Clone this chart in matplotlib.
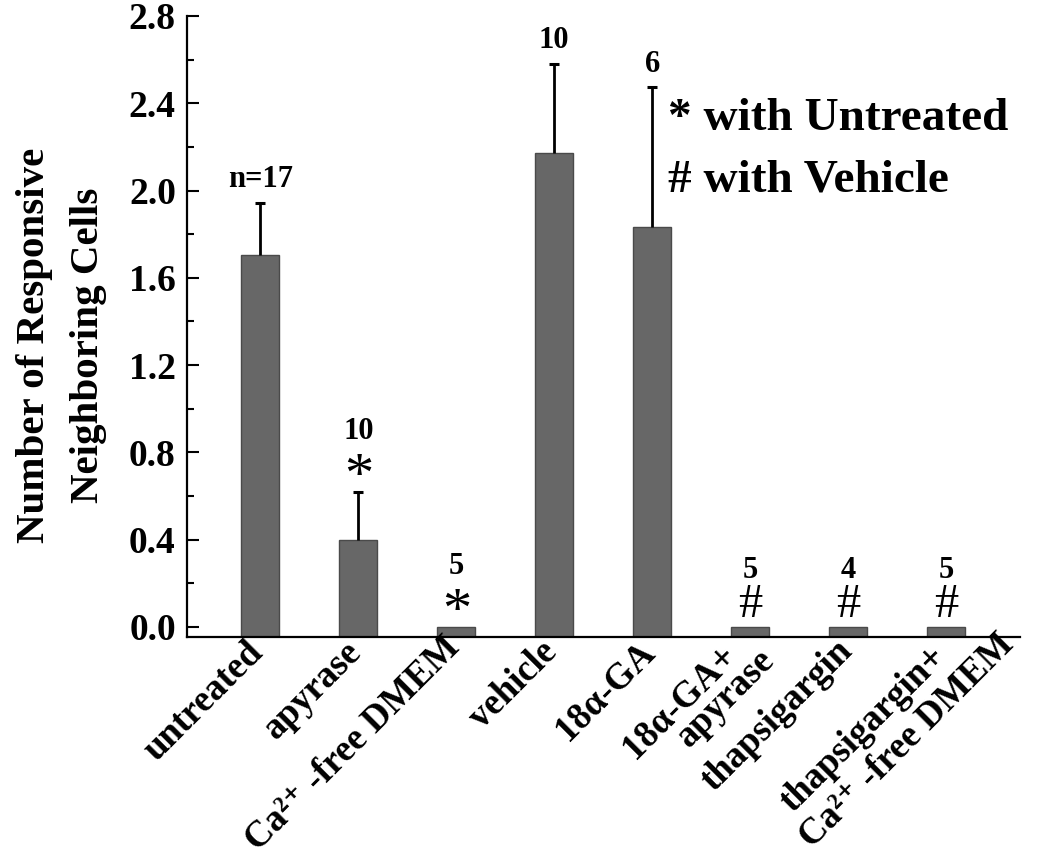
import matplotlib
matplotlib.use("Agg")
import matplotlib.pyplot as plt
import matplotlib.transforms as mtransforms
import numpy as np

plt.rcParams['font.family'] = ['Liberation Serif', 'DejaVu Serif']
plt.rcParams['font.weight'] = 'bold'

categories = ["untreated", "apyrase", "Ca\u00b2\u207a -free DMEM", "vehicle", "18\u03b1-GA",
              "18\u03b1-GA+\napyrase", "thapsigargin", "thapsigargin+\nCa\u00b2\u207a -free DMEM"]
values = [1.705, 0.40, 0.0, 2.17, 1.833, 0.0, 0.0, 0.0]
errors = [0.24, 0.22, 0.0, 0.41, 0.64, 0.0, 0.0, 0.0]
n_labels = ["n=17", "10", "5", "10", "6", "5", "4", "5"]
sig_marks = ["", "*", "*", "", "", "#", "#", "#"]
yticks = [0.0, 0.4, 0.8, 1.2, 1.6, 2.0, 2.4, 2.8]

# layout of rotated category label lines: (end along text direction, baseline offset) in px
line_layout = [[(-9, 15)], [(-9, 15)], [(-5, 12)], [(-9, 15)], [(-9, 15)],
               [(-23, 6), (1, 36)], [(-7, 15)], [(-14, 16), (42, 55)]]

fig = plt.figure(figsize=(10.5, 8.58), dpi=100)
ax = fig.add_axes([0.178, 0.2576, 0.793, 0.7238])

ybot = -0.046
x = np.arange(len(categories))
vals = np.array(values)
errs = np.array(errors)
ax.bar(x, vals - ybot, bottom=ybot, width=0.39, color='#676767',
       edgecolor='#4a4a4a', linewidth=1.0, zorder=2)
m = errs > 0
eb = ax.errorbar(x[m], vals[m], yerr=[np.zeros(m.sum()), errs[m]], fmt='none',
                 ecolor='black', elinewidth=2, capsize=3.8, capthick=2.2, zorder=3)
eb[1][0].set_visible(False)

for i in range(len(categories)):
    top = vals[i] + errs[i]
    if sig_marks[i] == '*':
        ax.annotate('*', (x[i], top), xytext=(0, 14), textcoords='offset pixels',
                    ha='center', va='center', fontsize=42, fontweight='normal')
        ax.annotate(n_labels[i], (x[i], top), xytext=(0, 60), textcoords='offset pixels',
                    ha='center', va='center', fontsize=22, fontweight='bold')
    elif sig_marks[i] == '#':
        ax.annotate('#', (x[i], top), xytext=(0, 22), textcoords='offset pixels',
                    ha='center', va='center', fontsize=35, fontweight='normal')
        ax.annotate(n_labels[i], (x[i], top), xytext=(0, 56), textcoords='offset pixels',
                    ha='center', va='center', fontsize=22, fontweight='bold')
    else:
        ax.annotate(n_labels[i], (x[i], top), xytext=(0, 23), textcoords='offset pixels',
                    ha='center', va='center', fontsize=22, fontweight='bold')

ax.text(0.578, 0.817, "* with Untreated", transform=ax.transAxes, fontsize=34,
        fontweight='bold', ha='left', va='baseline')
ax.text(0.578, 0.718, "# with Vehicle", transform=ax.transAxes, fontsize=34,
        fontweight='bold', ha='left', va='baseline')

ax.set_xlim(-0.75, 7.75)
ax.set_ylim(ybot, 2.8)
ax.set_yticks(yticks)
ax.set_yticklabels([f"{t:.1f}" for t in yticks])
ax.set_yticks(np.arange(0.2, 2.8, 0.4), minor=True)
ax.tick_params(axis='y', which='major', direction='in', length=8.5, width=1.5,
               labelsize=27, pad=8)
ax.tick_params(axis='y', which='minor', direction='in', length=5, width=1.5)
ax.set_xticks(x)
ax.set_xticklabels([])
ax.tick_params(axis='x', length=0)

# category labels, rotated 45 degrees, one text per line
base = mtransforms.blended_transform_factory(ax.transData, ax.transAxes)
c = np.sqrt(0.5)
for i, lab in enumerate(categories):
    for line, (along, perp) in zip(lab.split("\n"), line_layout[i]):
        dx = c * (along + perp) / 100.0
        dy = c * (along - perp) / 100.0
        tr = base + mtransforms.ScaledTranslation(dx, dy, fig.dpi_scale_trans)
        ax.text(x[i], 0, line, transform=tr, rotation=45, rotation_mode='anchor',
                ha='right', va='baseline', fontsize=26.5, fontweight='bold', clip_on=False)

for s in ['top', 'right']:
    ax.spines[s].set_visible(False)
for s in ['left', 'bottom']:
    ax.spines[s].set_linewidth(1.6)

ax.set_ylabel("Number of Responsive\nNeighboring Cells", fontsize=29.5, fontweight='bold',
              linespacing=1.6)
ax.yaxis.set_label_coords(-0.096, 0.47)

fig.savefig("out.png", dpi=100)
